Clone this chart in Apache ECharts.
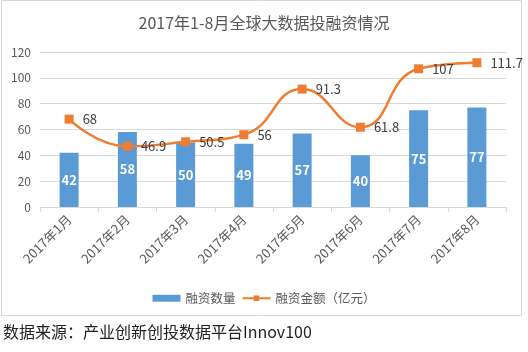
<!DOCTYPE html>
<html><head><meta charset="utf-8">
<script src="https://cdn.jsdelivr.net/npm/echarts@6/dist/echarts.min.js"></script>
<style>html,body{margin:0;padding:0;background:#fff}#c{width:528px;height:352px}</style>
</head><body><div id="c"></div>
<script>
var categories = ['2017年1月','2017年2月','2017年3月','2017年4月','2017年5月','2017年6月','2017年7月','2017年8月'];
var dealCount = [42, 58, 50, 49, 57, 40, 75, 77];
var dealAmount = [68, 46.9, 50.5, 56, 91.3, 61.8, 107, 111.7];
var yTicks = {min: 0, max: 120, interval: 20};
var titleText = '2017年1-8月全球大数据投融资情况';
var sourceText = '数据来源：产业创新创投数据平台Innov100';

var font = '"Noto Sans CJK SC", "Noto Sans", sans-serif';
var chart = echarts.init(document.getElementById('c'), null, {renderer: 'canvas'});
chart.setOption({
  animation: false,
  textStyle: {fontFamily: font},
  title: {
    text: titleText, left: 'center', top: 10,
    textStyle: {fontSize: 16, fontWeight: 'normal', color: '#595959', fontFamily: font}
  },
  graphic: [
    {type: 'rect', shape: {x: 1.5, y: 0.5, width: 520, height: 315}, style: {fill: 'none', stroke: '#D9D9D9', lineWidth: 1}, silent: true},
    {type: 'text', left: 3, top: 324, style: {text: sourceText, fontSize: 16, fill: '#222', fontFamily: font}}
  ],
  legend: {
    top: 287, left: 'center', itemGap: 6, itemWidth: 28, itemHeight: 7,
    textStyle: {fontSize: 12.5, color: '#595959', fontFamily: font},
    data: [{name: '融资数量', icon: 'rect'}, {name: '融资金额（亿元）'}]
  },
  grid: {left: 40, right: 22, top: 52, bottom: 145, containLabel: false},
  xAxis: {
    type: 'category', data: categories,
    axisLine: {lineStyle: {color: '#D9D9D9'}},
    axisTick: {show: true, alignWithLabel: false, length: 5, lineStyle: {color: '#D9D9D9'}},
    axisLabel: {rotate: 45, interval: 0, fontSize: 13, color: '#595959', margin: 10, fontFamily: font}
  },
  yAxis: {
    type: 'value', min: yTicks.min, max: yTicks.max, interval: yTicks.interval,
    axisLine: {show: false}, axisTick: {show: false},
    splitLine: {lineStyle: {color: '#D9D9D9'}},
    axisLabel: {fontSize: 12, color: '#595959', margin: 9, fontFamily: font}
  },
  series: [
    {
      name: '融资数量', type: 'bar', data: dealCount, barWidth: 19,
      itemStyle: {color: '#5B9BD5'},
      label: {show: true, position: 'inside', color: '#fff', fontSize: 13, fontWeight: 'bold', fontFamily: font}
    },
    {
      name: '融资金额（亿元）', type: 'line', data: dealAmount, smooth: 0.5,
      symbol: 'rect', symbolSize: 9,
      itemStyle: {color: '#ED7D31'},
      lineStyle: {color: '#ED7D31', width: 2.5},
      label: {show: true, position: 'right', distance: 9, color: '#404040', fontSize: 13, fontFamily: font}
    }
  ]
});
</script></body></html>
